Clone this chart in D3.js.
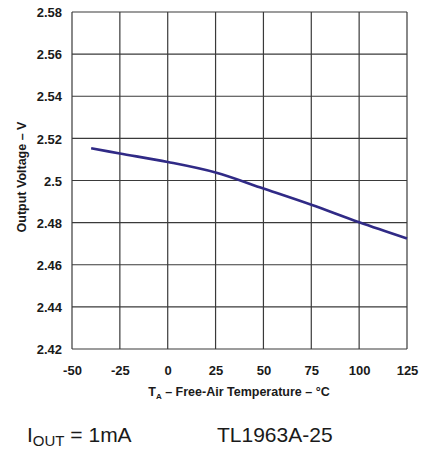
<!DOCTYPE html>
<html>
<head>
<meta charset="utf-8">
<script src="https://cdn.jsdelivr.net/npm/d3@7"></script>
<style>
  html, body { margin: 0; padding: 0; background: #fff; }
  svg { display: block; }
  text { font-family: "Liberation Sans", Arial, sans-serif; fill: #1a1a1a; }
</style>
</head>
<body>
<svg id="chart" width="421" height="450"></svg>
<script>
const temperatures = [-40, -25, 0, 25, 50, 75, 100, 125];
const outputVoltage = [2.5153, 2.5128, 2.5088, 2.5038, 2.4962, 2.4885, 2.4802, 2.4725];
const xTicks = [-50, -25, 0, 25, 50, 75, 100, 125];
const yTicks = [2.42, 2.44, 2.46, 2.48, 2.5, 2.52, 2.54, 2.56, 2.58];
const yTickLabels = ["2.42", "2.44", "2.46", "2.48", "2.5", "2.52", "2.54", "2.56", "2.58"];

const svg = d3.select("#chart");
const plotLeft = 72, plotRight = 407, plotTop = 12, plotBottom = 349;

const x = d3.scaleLinear().domain([-50, 125]).range([plotLeft, plotRight]);
const y = d3.scaleLinear().domain([2.42, 2.58]).range([plotBottom, plotTop]);

// grid
const grid = svg.append("g").attr("stroke", "#3a3a3a").attr("stroke-width", 1.2);
grid.selectAll("line.v").data(xTicks).join("line").attr("class", "v")
  .attr("x1", d => x(d)).attr("x2", d => x(d))
  .attr("y1", plotTop).attr("y2", plotBottom);
grid.selectAll("line.h").data(yTicks).join("line").attr("class", "h")
  .attr("x1", plotLeft).attr("x2", plotRight)
  .attr("y1", d => y(d)).attr("y2", d => y(d));

// axes labels via d3 axes
const yAxis = svg.append("g").attr("transform", `translate(${plotLeft - 10},0)`)
  .call(d3.axisLeft(y).tickValues(yTicks).tickFormat((d, i) => yTickLabels[i]).tickSize(0).tickPadding(0));
yAxis.select(".domain").remove();
yAxis.selectAll("text")
  .style("font-family", "'Liberation Sans', Arial, sans-serif")
  .style("font-weight", "bold").style("font-size", "13px").attr("fill", "#1a1a1a")
  .attr("dy", "0.36em");

const xAxis = svg.append("g").attr("transform", `translate(0,${plotBottom + 17})`)
  .call(d3.axisBottom(x).tickValues(xTicks).tickFormat(d => String(d)).tickSize(0).tickPadding(0));
xAxis.select(".domain").remove();
xAxis.selectAll("text")
  .style("font-family", "'Liberation Sans', Arial, sans-serif")
  .style("font-weight", "bold").style("font-size", "13px").attr("fill", "#1a1a1a")
  .attr("dy", "0.71em");

// line
const line = d3.line().x((d, i) => x(temperatures[i])).y(d => y(d)).curve(d3.curveCatmullRom.alpha(0.5));
svg.append("path").datum(outputVoltage)
  .attr("d", line)
  .attr("fill", "none")
  .attr("stroke", "#302a86")
  .attr("stroke-width", 2.6)
  .attr("stroke-linejoin", "round");

// y title
svg.append("text")
  .attr("transform", "translate(26,177) rotate(-90)")
  .attr("text-anchor", "middle")
  .style("font-weight", "bold").style("font-size", "12.5px")
  .text("Output Voltage – V");

// x title
const xt = svg.append("text")
  .attr("x", 239).attr("y", 396)
  .attr("text-anchor", "middle")
  .style("font-weight", "bold").style("font-size", "12.5px");
xt.append("tspan").text("T");
xt.append("tspan").attr("dy", 3).style("font-size", "8px").text("A");
xt.append("tspan").attr("dy", -3).text(" – Free-Air Temperature – °C");

// bottom notes
const n1 = svg.append("text").attr("x", 27).attr("y", 442).style("font-size", "21px");
n1.append("tspan").text("I");
n1.append("tspan").attr("dy", 4).style("font-size", "15px").text("OUT");
n1.append("tspan").attr("dy", -4).text(" = 1mA");

svg.append("text").attr("x", 217).attr("y", 442).style("font-size", "21px").text("TL1963A-25");
</script>
</body>
</html>
